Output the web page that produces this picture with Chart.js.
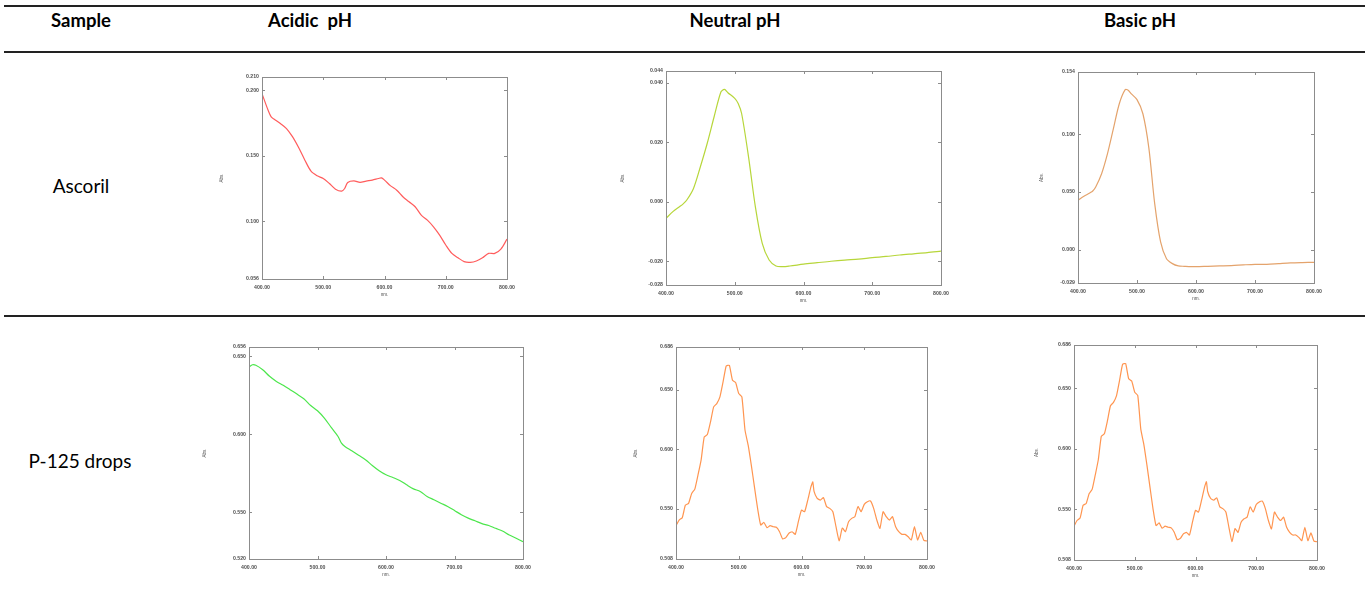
<!DOCTYPE html>
<html>
<head>
<meta charset="utf-8">
<script src="https://cdn.jsdelivr.net/npm/chart.js@4.4.1/dist/chart.umd.min.js"></script>
<style>
  body { margin: 0; background: #fff; width: 1368px; height: 599px; position: relative; overflow: hidden; font-family: Lato, "Noto Sans", sans-serif; }
  .rule { position: absolute; left: 4px; width: 1361px; height: 1.6px; background: #222; }
  .txt { position: absolute; transform: translate(-50%, -50%); white-space: pre; color: #000; }
  .hd { font-weight: 700; font-size: 18.5px; }
  .lb { font-size: 19px; }
  .cell { position: absolute; }
</style>
</head>
<body>
<div class="rule" style="top:5px"></div>
<div class="rule" style="top:51px"></div>
<div class="rule" style="top:315px"></div>

<div class="txt hd" style="left:81px;top:20px">Sample</div>
<div class="txt hd" style="left:310px;top:20px">Acidic  pH</div>
<div class="txt hd" style="left:735px;top:20px">Neutral pH</div>
<div class="txt hd" style="left:1140px;top:20px">Basic pH</div>
<div class="txt lb" style="left:81px;top:185px">Ascoril</div>
<div class="txt lb" style="left:80px;top:460px">P-125 drops</div>

<div class="cell" id="c1"><canvas id="chart-asc-acid"></canvas></div>
<div class="cell" id="c2"><canvas id="chart-asc-neut"></canvas></div>
<div class="cell" id="c3"><canvas id="chart-asc-basic"></canvas></div>
<div class="cell" id="c4"><canvas id="chart-p125-acid"></canvas></div>
<div class="cell" id="c5"><canvas id="chart-p125-neut"></canvas></div>
<div class="cell" id="c6"><canvas id="chart-p125-basic"></canvas></div>

<script>
// ===== spectra =====
const X_TICKS = [400, 500, 600, 700, 800];

// Ascoril, acidic pH
const ASC_ACID_NM = [400, 410, 415, 420, 430, 440, 450, 460, 470, 480, 490, 500, 510, 520, 530, 535, 540, 550, 560, 570, 580, 590, 595, 600, 610, 620, 630, 640, 650, 660, 670, 680, 690, 700, 710, 720, 730, 740, 750, 760, 770, 780, 790, 800];
const ASC_ACID_ABS = [0.1973, 0.1846, 0.1796, 0.1778, 0.1745, 0.1707, 0.1643, 0.1560, 0.1466, 0.1382, 0.1347, 0.1326, 0.1288, 0.1245, 0.1230, 0.1250, 0.1296, 0.1308, 0.1296, 0.1306, 0.1314, 0.1326, 0.1331, 0.1314, 0.1270, 0.1237, 0.1187, 0.1149, 0.1111, 0.1047, 0.1009, 0.0958, 0.0895, 0.0819, 0.0755, 0.0722, 0.0692, 0.0687, 0.0697, 0.0722, 0.0755, 0.0755, 0.0788, 0.0864];
const ASC_ACID_YTICKS = [0.056, 0.100, 0.150, 0.200, 0.210];

// Ascoril, neutral pH
const ASC_NEUT_NM = [400, 410, 420, 425, 430, 440, 450, 460, 470, 480, 485, 490, 500, 505, 510, 520, 530, 540, 550, 560, 570, 580, 600, 620, 640, 660, 680, 700, 720, 740, 760, 780, 800];
const ASC_NEUT_ABS = [-0.0056, -0.0033, -0.0016, -0.0007, 0.0005, 0.0045, 0.0118, 0.0197, 0.0286, 0.0370, 0.0378, 0.0367, 0.0348, 0.0331, 0.0297, 0.0152, -0.0017, -0.0140, -0.0196, -0.0216, -0.0218, -0.0216, -0.0210, -0.0205, -0.0200, -0.0196, -0.0193, -0.0188, -0.0184, -0.0179, -0.0175, -0.0171, -0.0166];
const ASC_NEUT_YTICKS = [-0.028, -0.020, 0.000, 0.020, 0.040, 0.044];

// Ascoril, basic pH
const ASC_BASIC_NM = [400, 410, 420, 425, 430, 440, 450, 460, 470, 480, 485, 490, 500, 510, 520, 530, 540, 550, 560, 570, 580, 600, 620, 640, 660, 680, 700, 720, 740, 760, 780, 800];
const ASC_BASIC_ABS = [0.0427, 0.0462, 0.0491, 0.0508, 0.0543, 0.0658, 0.0832, 0.1049, 0.1265, 0.1387, 0.1381, 0.1352, 0.1300, 0.1178, 0.0884, 0.0398, 0.0066, -0.0079, -0.0122, -0.0142, -0.0145, -0.0148, -0.0145, -0.0142, -0.0139, -0.0133, -0.0128, -0.0128, -0.0122, -0.0116, -0.0113, -0.0111];
const ASC_BASIC_YTICKS = [-0.029, 0.000, 0.050, 0.100, 0.154];

// P-125 drops, acidic pH
const P125_ACID_NM = [400, 405, 410, 420, 430, 440, 450, 460, 470, 480, 490, 500, 510, 520, 530, 535, 540, 550, 560, 570, 580, 590, 600, 610, 620, 630, 640, 650, 660, 670, 680, 690, 700, 710, 720, 730, 740, 750, 760, 770, 780, 790, 800];
const P125_ACID_ABS = [0.6431, 0.6446, 0.6443, 0.6414, 0.6372, 0.6339, 0.6314, 0.6286, 0.6258, 0.6228, 0.6185, 0.6151, 0.6104, 0.6044, 0.5986, 0.5943, 0.5922, 0.5894, 0.5865, 0.5837, 0.5800, 0.5766, 0.5740, 0.5723, 0.5704, 0.5676, 0.5650, 0.5633, 0.5601, 0.5580, 0.5558, 0.5537, 0.5511, 0.5484, 0.5462, 0.5445, 0.5427, 0.5415, 0.5397, 0.5380, 0.5354, 0.5333, 0.5311];
const P125_ACID_YTICKS = [0.520, 0.550, 0.600, 0.650, 0.656];

// P-125 drops, neutral pH
const P125_NEUT_NM = [400, 405, 410, 415, 420, 425, 430, 435, 440, 445, 450, 455, 460, 465, 470, 475, 480, 485, 490, 495, 500, 505, 510, 515, 520, 525, 530, 535, 540, 545, 550, 555, 560, 565, 570, 575, 580, 585, 590, 595, 600, 605, 610, 615, 618, 620, 625, 630, 635, 640, 645, 650, 655, 660, 665, 670, 675, 680, 685, 690, 695, 700, 705, 710, 715, 720, 725, 730, 735, 740, 745, 750, 755, 760, 765, 770, 775, 780, 785, 790, 795, 800];
const P125_NEUT_ABS = [0.5360, 0.5407, 0.5427, 0.5533, 0.5547, 0.5630, 0.5667, 0.5784, 0.5910, 0.6105, 0.6125, 0.6231, 0.6357, 0.6385, 0.6441, 0.6567, 0.6701, 0.6706, 0.6581, 0.6561, 0.6469, 0.6441, 0.6161, 0.6036, 0.5868, 0.5686, 0.5505, 0.5365, 0.5387, 0.5343, 0.5360, 0.5351, 0.5346, 0.5309, 0.5248, 0.5259, 0.5296, 0.5309, 0.5287, 0.5393, 0.5491, 0.5477, 0.5575, 0.5686, 0.5728, 0.5647, 0.5589, 0.5575, 0.5595, 0.5520, 0.5505, 0.5477, 0.5351, 0.5231, 0.5340, 0.5309, 0.5393, 0.5421, 0.5435, 0.5520, 0.5477, 0.5539, 0.5561, 0.5567, 0.5505, 0.5407, 0.5337, 0.5477, 0.5435, 0.5407, 0.5435, 0.5351, 0.5309, 0.5287, 0.5287, 0.5267, 0.5240, 0.5351, 0.5240, 0.5304, 0.5236, 0.5231];
const P125_NEUT_YTICKS = [0.508, 0.550, 0.600, 0.650, 0.686];

// P-125 drops, basic pH (the scan shows the same trace as neutral)
const P125_BASIC_NM = P125_NEUT_NM;
const P125_BASIC_ABS = [0.5360, 0.5407, 0.5427, 0.5533, 0.5547, 0.5630, 0.5667, 0.5784, 0.5910, 0.6105, 0.6125, 0.6231, 0.6357, 0.6385, 0.6441, 0.6567, 0.6701, 0.6706, 0.6581, 0.6561, 0.6469, 0.6441, 0.6161, 0.6036, 0.5868, 0.5686, 0.5505, 0.5365, 0.5387, 0.5343, 0.5360, 0.5351, 0.5346, 0.5309, 0.5248, 0.5259, 0.5296, 0.5309, 0.5287, 0.5393, 0.5491, 0.5477, 0.5575, 0.5686, 0.5728, 0.5647, 0.5589, 0.5575, 0.5595, 0.5520, 0.5505, 0.5477, 0.5351, 0.5231, 0.5340, 0.5309, 0.5393, 0.5421, 0.5435, 0.5520, 0.5477, 0.5539, 0.5561, 0.5567, 0.5505, 0.5407, 0.5337, 0.5477, 0.5435, 0.5407, 0.5435, 0.5351, 0.5309, 0.5287, 0.5287, 0.5267, 0.5240, 0.5351, 0.5240, 0.5304, 0.5236, 0.5231];
const P125_BASIC_YTICKS = [0.508, 0.550, 0.600, 0.650, 0.686];

// plot-area boxes in page pixels (left, top, right, bottom) + where "Abs." sits
const PANELS = [
  { id: 'chart-asc-acid',    cell: 'c1', box: [262, 77, 507, 279],  titleX: 222,  nm: ASC_ACID_NM,   abs: ASC_ACID_ABS,   yt: ASC_ACID_YTICKS,   color: '#ff5c5c', tension: 0.3 },
  { id: 'chart-asc-neut',    cell: 'c2', box: [666, 71, 941, 285],  titleX: 623,  nm: ASC_NEUT_NM,   abs: ASC_NEUT_ABS,   yt: ASC_NEUT_YTICKS,   color: '#b7d63a', tension: 0.3 },
  { id: 'chart-asc-basic',   cell: 'c3', box: [1078, 72, 1314, 283], titleX: 1042, nm: ASC_BASIC_NM,  abs: ASC_BASIC_ABS,  yt: ASC_BASIC_YTICKS,  color: '#e4a36c', tension: 0.3 },
  { id: 'chart-p125-acid',   cell: 'c4', box: [249, 347, 523, 559], titleX: 205,  nm: P125_ACID_NM,  abs: P125_ACID_ABS,  yt: P125_ACID_YTICKS,  color: '#4ce64c', tension: 0.3 },
  { id: 'chart-p125-neut',   cell: 'c5', box: [676, 347, 927, 559], titleX: 636,  nm: P125_NEUT_NM,  abs: P125_NEUT_ABS,  yt: P125_NEUT_YTICKS,  color: '#ff9550', tension: 0.15 },
  { id: 'chart-p125-basic',  cell: 'c6', box: [1074, 345, 1317, 560], titleX: 1037, nm: P125_BASIC_NM, abs: P125_BASIC_ABS, yt: P125_BASIC_YTICKS, color: '#ff9550', tension: 0.15 }
];

const PAD_TOP = 6, PAD_RIGHT = 10, X_AXIS_H = 18;
const TICK_FONT = { family: 'Arial, "Liberation Sans", sans-serif', size: 5.2, weight: 'bold' };
const TICK_COLOR = '#505050';

// gray frame with short inward tick marks on all four sides
const frameTicks = {
  id: 'frameTicks',
  afterDraw(chart) {
    const { ctx, chartArea: a, scales: { x, y } } = chart;
    ctx.save();
    ctx.strokeStyle = '#8c8c8c';
    ctx.lineWidth = 1;
    ctx.strokeRect(Math.round(a.left) + 0.5, Math.round(a.top) + 0.5, Math.round(a.width), Math.round(a.height));
    ctx.beginPath();
    x.ticks.forEach(t => {
      if (t.value <= x.min || t.value >= x.max) return;
      const px = Math.round(x.getPixelForValue(t.value)) + 0.5;
      ctx.moveTo(px, a.top); ctx.lineTo(px, a.top + 3);
      ctx.moveTo(px, a.bottom); ctx.lineTo(px, a.bottom - 3);
    });
    y.ticks.forEach(t => {
      if (t.value <= y.min || t.value >= y.max) return;
      const py = Math.round(y.getPixelForValue(t.value)) + 0.5;
      ctx.moveTo(a.left, py); ctx.lineTo(a.left + 3, py);
      ctx.moveTo(a.right, py); ctx.lineTo(a.right - 3, py);
    });
    ctx.stroke();
    ctx.restore();
  }
};

function initPanel(p) {
  const [L, T, R, B] = p.box;
  const left = p.titleX - 3;
  const top = T - PAD_TOP;
  const cell = document.getElementById(p.cell);
  cell.style.left = left + 'px';
  cell.style.top = top + 'px';
  cell.style.width = (R - left + PAD_RIGHT) + 'px';
  cell.style.height = (B - top + X_AXIS_H) + 'px';

  return new Chart(document.getElementById(p.id), {
    type: 'line',
    data: {
      datasets: [{
        data: p.nm.map((v, i) => ({ x: v, y: p.abs[i] })),
        borderColor: p.color,
        borderWidth: 1.2,
        pointRadius: 0,
        fill: false,
        tension: p.tension
      }]
    },
    options: {
      responsive: true,
      maintainAspectRatio: false,
      animation: false,
      layout: { padding: { top: PAD_TOP, right: PAD_RIGHT, bottom: 0, left: 0 } },
      plugins: { legend: { display: false }, tooltip: { enabled: false } },
      scales: {
        x: {
          type: 'linear',
          min: X_TICKS[0], max: X_TICKS[X_TICKS.length - 1],
          afterBuildTicks: s => { s.ticks = X_TICKS.map(v => ({ value: v })); },
          afterFit: s => { s.height = X_AXIS_H; s.paddingLeft = 0; s.paddingRight = 0; },
          grid: { display: false, drawTicks: false },
          border: { display: false },
          ticks: { color: TICK_COLOR, font: TICK_FONT, padding: 5, maxRotation: 0, autoSkip: false, callback: v => v.toFixed(2) },
          title: { display: true, text: 'nm.', color: TICK_COLOR, font: { family: TICK_FONT.family, size: 4.6 }, padding: 0 }
        },
        y: {
          type: 'linear',
          min: p.yt[0], max: p.yt[p.yt.length - 1],
          afterBuildTicks: s => { s.ticks = p.yt.map(v => ({ value: v })); },
          afterFit: s => { s.width = L - left; s.paddingTop = 0; s.paddingBottom = 0; },
          grid: { display: false, drawTicks: false },
          border: { display: false },
          ticks: { color: TICK_COLOR, font: TICK_FONT, padding: 3, autoSkip: false, callback: v => v.toFixed(3) },
          title: { display: true, text: 'Abs.', color: TICK_COLOR, font: { family: TICK_FONT.family, size: 4.6 }, padding: 0 }
        }
      }
    },
    plugins: [frameTicks]
  });
}

PANELS.forEach(initPanel);
</script>
</body>
</html>
